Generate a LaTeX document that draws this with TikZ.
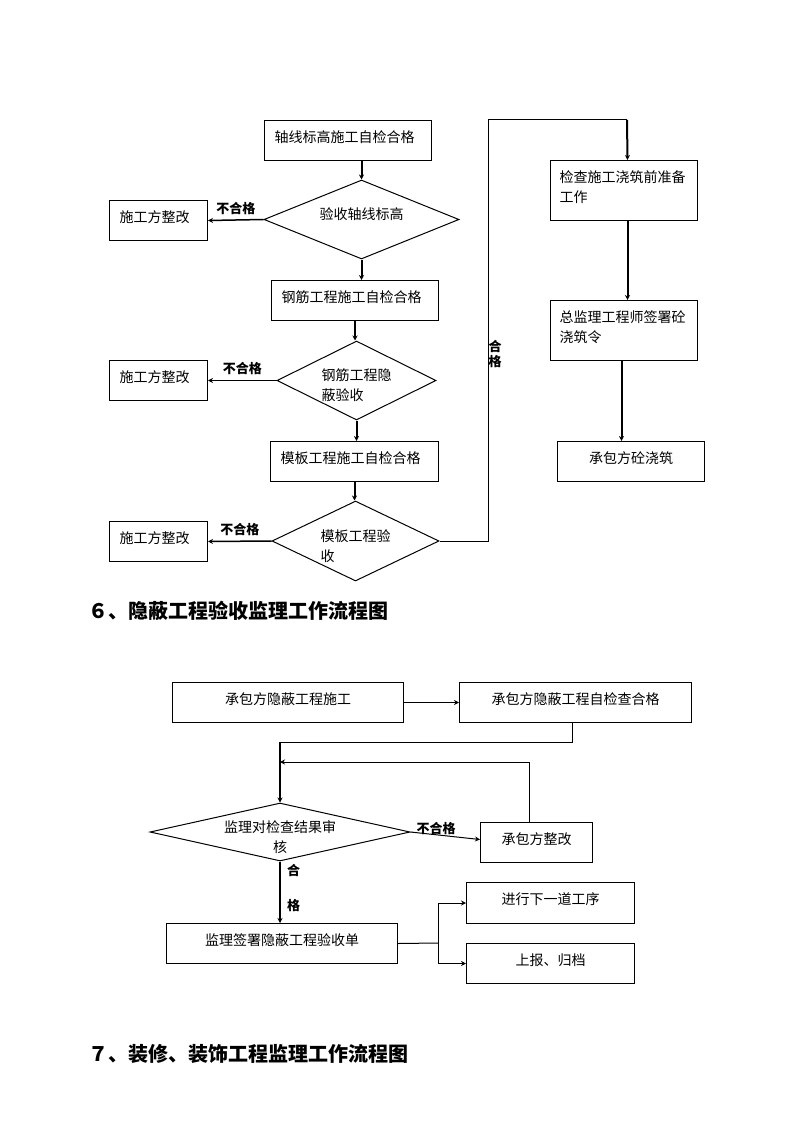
\documentclass[tikz,border=0pt]{standalone}
\usepackage{fontspec}
\setmainfont{Noto Sans CJK SC}
\usetikzlibrary{shapes.geometric, arrows.meta}

\newcommand\boxfont{\fontsize{14}{20}\selectfont}
\newcommand\verdictfont{\fontsize{13}{15}\selectfont\bfseries}
\newcommand\headfont{\fontsize{20}{22}\selectfont\bfseries}

\begin{document}
\begin{tikzpicture}[x=1pt, y=-1pt,
  box/.style={draw, line width=1pt, anchor=north west, inner xsep=10pt, inner ysep=0pt,
    text height=22pt, text depth=18pt, align=left, font=\boxfont},
  tallbox/.style={box, text depth=38pt},
  decision/.style={draw, diamond, aspect=2.5, line width=1pt, inner sep=0pt,
    text height=0pt, text depth=0pt, font=\boxfont},
  verdict/.style={font=\verdictfont, inner sep=2pt},
  heading/.style={anchor=west, inner sep=0pt, font=\headfont},
  link/.style={line width=1pt, >={Stealth[length=5pt, width=5pt]}},
  flow/.style={link, ->, line width=2pt},
  side/.style={link, ->, line width=1.5pt},
]
\useasboundingbox (0,0) rectangle (794,1123);

% inspection of the formwork before pouring
\node[box, text width=147pt] (axis) at (264,120) {轴线标高施工自检合格};
\node[decision, minimum width=195pt, minimum height=79pt, text width=84pt, align=center] (axischk) at (361.5,219.5) {验收轴线标高};
\node[box, text width=78pt] (fix1) at (109,200) {施工方整改};
\node[box, text width=147pt] (rebar) at (271,280) {钢筋工程施工自检合格};
\node[decision, minimum width=159pt, minimum height=79pt, text width=70pt, align=left] (rebarchk) at (356.5,380.5) {钢筋工程隐\\蔽验收};
\node[box, text width=78pt] (fix2) at (109,360) {施工方整改};
\node[box, text width=148pt] (form) at (270,441) {模板工程施工自检合格};
\node[decision, minimum width=167pt, minimum height=80pt, text width=70pt, align=left] (formchk) at (355.5,541) {模板工程验\\收};
\node[box, text width=78pt] (fix3) at (109,521) {施工方整改};

\node[tallbox, inner xsep=9pt, text width=129pt] (prep) at (550,160) {检查施工浇筑前准备\\工作};
\node[tallbox, inner xsep=9pt, text width=129pt] (order) at (550,300) {总监理工程师签署砼\\浇筑令};
\node[box, align=center, text width=127pt] (pour) at (557,441) {承包方砼浇筑};

\coordinate (pass) at (488,120);
\coordinate (turn) at (627,120);

\draw[flow] (axischk.north |- axis.south) -- (axischk.north);
\draw[side] (axischk.west) -- node[verdict, midway, above=3pt] {不合格} (fix1.east);
\draw[flow] (axischk.south) -- (axischk.south |- rebar.north);
\draw[flow] (rebar.south) -- (rebar.south |- rebarchk.north);
\draw[side] (rebarchk.west) -- node[verdict, midway, above=3pt] {不合格} (fix2.east);
\draw[flow] (rebarchk.south) -- (rebarchk.south |- form.north);
\draw[flow] (form.south) -- (form.south |- formchk.north);
\draw[side] (formchk.west) -- node[verdict, midway, above=3pt] {不合格} (fix3.east);
\draw[link] (formchk.east) -| (pass) -- (turn);
\draw[flow] (turn) -- ([xshift=3.5pt]prep.north);
\node[verdict, align=center, inner sep=0pt] (passlbl) at (495,354) {合\\格};
\draw[flow] ([xshift=3.5pt]prep.south) -- ([xshift=3.5pt]order.north);
\draw[flow] ([xshift=-2.5pt]order.south) -- ([xshift=-9.5pt]pour.north);

\node[heading] (sec6) at (88,611) {６、隐蔽工程验收监理工作流程图};

% concealed work acceptance
\node[box, align=center, text width=211pt] (work) at (172,682) {承包方隐蔽工程施工};
\node[box, align=center, text width=212pt] (self) at (459,682) {承包方隐蔽工程自检查合格};
\node[decision, minimum width=260pt, minimum height=58pt, text width=112pt, align=center] (review) at (280,832) {监理对检查结果审\\核};
\node[box, align=center, text width=92pt] (redo) at (480,822) {承包方整改};
\node[box, align=center, text width=211pt] (sign) at (166,923) {监理签署隐蔽工程验收单};
\node[box, align=center, text width=148pt, text depth=19pt] (next) at (466,882) {进行下一道工序};
\node[box, align=center, text width=148pt] (file) at (466,943) {上报、归档};

\coordinate (join) at (280,742);
\coordinate (back) at (280,762);
\coordinate (fork) at (438,943);

\draw[link, ->] (work.east) -- (self.west);
\draw[link] ([xshift=-3pt]self.south) |- (join);
\draw[flow] (join) -- (review.north);
\draw[link, ->] ([xshift=-7pt]redo.north) |- (back);
\draw[link, ->] (review.east) -- node[verdict, pos=.37, above, inner sep=0pt] {不合格} ([yshift=3pt]redo.west);
\draw[flow] (review.south) -- (review.south |- sign.north)
  node[verdict, pos=.15, right=4pt] {合}
  node[verdict, pos=.71, right=4pt] {格};
\draw[link] (sign.east) -- (fork);
\draw[link, ->] (fork) |- (next.west);
\draw[link, ->] (fork) |- (file.west);

\node[heading] (sec7) at (88,1054) {７、装修、装饰工程监理工作流程图};
\end{tikzpicture}
\end{document}
